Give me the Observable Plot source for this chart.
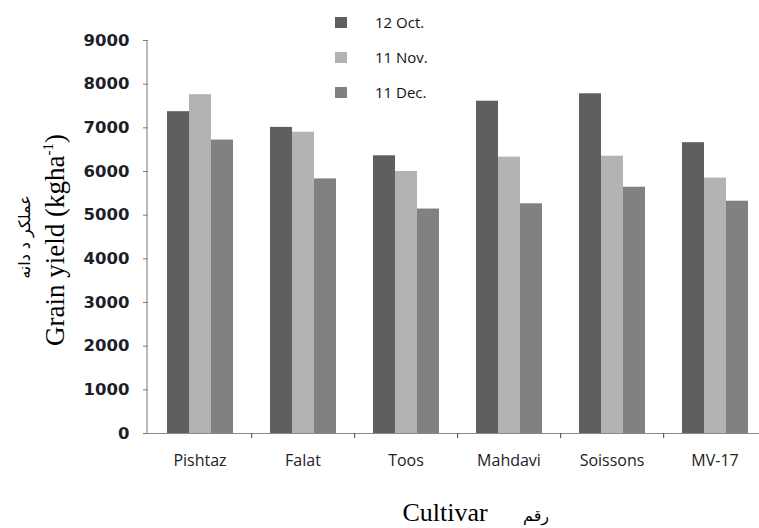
<!DOCTYPE html>
<html>
<head>
<meta charset="utf-8">
<script src="https://cdn.jsdelivr.net/npm/d3@7"></script>
<script src="https://cdn.jsdelivr.net/npm/@observablehq/plot@0.6"></script>
<style>
  body { margin: 0; background: #fff; }
  #wrap { position: relative; width: 759px; height: 528px; overflow: hidden; }
  #wrap svg { position: absolute; left: 0; top: 0; }
  .leg { position: absolute; font-family: "Open Sans", sans-serif; font-size: 15px; color: #111; line-height: 1; white-space: nowrap; }
  .sw { position: absolute; width: 12px; height: 11px; }
  .ytitle { position: absolute; white-space: nowrap; line-height: 1; transform: translate(-50%, -50%) rotate(-90deg); font-family: "Liberation Serif", serif; font-size: 27px; font-weight: normal; color: #000; }
  .ytitle sup { font-size: 15px; vertical-align: 11px; line-height: 0; }
  .fa { position: absolute; white-space: nowrap; line-height: 1.2; transform: translate(-50%, -50%); font-family: "DejaVu Sans", "Noto Sans", sans-serif; font-size: 16px; color: #000; direction: rtl; }
  .fav { transform: translate(-50%, -50%) rotate(-90deg); }
  .xtitle { position: absolute; white-space: nowrap; line-height: 1; transform: translate(-50%, -50%); font-family: "Liberation Serif", serif; font-size: 26px; color: #000; }
  .yc [aria-label="y-axis tick label"] text { font-family: "DejaVu Sans", sans-serif; font-weight: bold; font-size: 16.5px; fill: #1e1e28; }
  .yc [aria-label="fx-axis tick label"] text { font-family: "Open Sans", sans-serif; font-size: 16px; fill: #222; }
</style>
</head>
<body>
<div id="wrap"></div>
<script>
const cultivars = ["Pishtaz", "Falat", "Toos", "Mahdavi", "Soissons", "MV-17"];
const sowingDates = ["12 Oct.", "11 Nov.", "11 Dec."];
const yieldOct12 = [7370, 7010, 6360, 7610, 7780, 6660];
const yieldNov11 = [7760, 6900, 6000, 6330, 6350, 5850];
const yieldDec11 = [6720, 5830, 5140, 5260, 5640, 5320];
const barColors = ["#5f5f5f", "#b3b3b3", "#818181"];
const yTicks = [0, 1000, 2000, 3000, 4000, 5000, 6000, 7000, 8000, 9000];

const series = [yieldOct12, yieldNov11, yieldDec11];
const data = [];
cultivars.forEach((c, i) => {
  sowingDates.forEach((d, j) => data.push({cultivar: c, date: d, value: series[j][i]}));
});

const W = 759, H = 528, ML = 147, MR = -8, MT = 40, MB = 95;
const step = (W - ML - MR) / cultivars.length;

const chart = Plot.plot({
  width: W, height: H,
  marginLeft: ML, marginRight: MR, marginTop: MT, marginBottom: MB,
  className: "yc",
  style: {background: "transparent", overflow: "visible"},
  fx: {domain: cultivars, padding: 0, label: null, axis: null},
  x: {domain: sowingDates, paddingInner: 0, paddingOuter: 0.75, axis: null},
  y: {domain: [0, 9000], label: null},
  color: {domain: sowingDates, range: barColors},
  marks: [
    Plot.barY(data, {fx: "cultivar", x: "date", y: "value", fill: "date", inset: 0}),
    Plot.ruleY([0], {stroke: "#8a8a8a", strokeWidth: 1.2}),
    Plot.axisY({ticks: yTicks, tickSize: 5, tickPadding: 14, stroke: "#777", tickFormat: d => String(d), label: null}),
    Plot.axisFx({anchor: "bottom", tickSize: 0, tickPadding: 21, label: null}),
    Plot.axisFx({anchor: "bottom", tickSize: 5, text: null, dx: step / 2, stroke: "#444", label: null})
  ]
});

const y = chart.scale("y");
d3.select(chart).append("line")
  .attr("x1", ML).attr("x2", ML)
  .attr("y1", y.apply(9000)).attr("y2", y.apply(0))
  .attr("stroke", "#8a8a8a").attr("stroke-width", 1.2);

const wrap = document.getElementById("wrap");
wrap.appendChild(chart);

// legend
const legTops = [17, 52, 87];
sowingDates.forEach((d, j) => {
  const sw = document.createElement("div");
  sw.className = "sw";
  sw.style.left = "335px";
  sw.style.top = legTops[j] + "px";
  sw.style.background = barColors[j];
  wrap.appendChild(sw);
  const t = document.createElement("div");
  t.className = "leg";
  t.style.left = "375px";
  t.style.top = (legTops[j] - 2) + "px";
  t.textContent = d;
  wrap.appendChild(t);
});

// axis titles
const yt = document.createElement("div");
yt.className = "ytitle";
yt.style.left = "55px"; yt.style.top = "240px";
yt.innerHTML = "Grain yield (kgha<sup>-1</sup>)";
wrap.appendChild(yt);

const yfa = document.createElement("div");
yfa.className = "fa fav";
yfa.style.left = "25px"; yfa.style.top = "237px";
yfa.textContent = "عملکر د دانه";
wrap.appendChild(yfa);

const xt = document.createElement("div");
xt.className = "xtitle";
xt.style.left = "445px"; xt.style.top = "513px";
xt.textContent = "Cultivar";
wrap.appendChild(xt);

const xfa = document.createElement("div");
xfa.className = "fa";
xfa.style.left = "536px"; xfa.style.top = "516px";
xfa.textContent = "رقم";
wrap.appendChild(xfa);
</script>
</body>
</html>
